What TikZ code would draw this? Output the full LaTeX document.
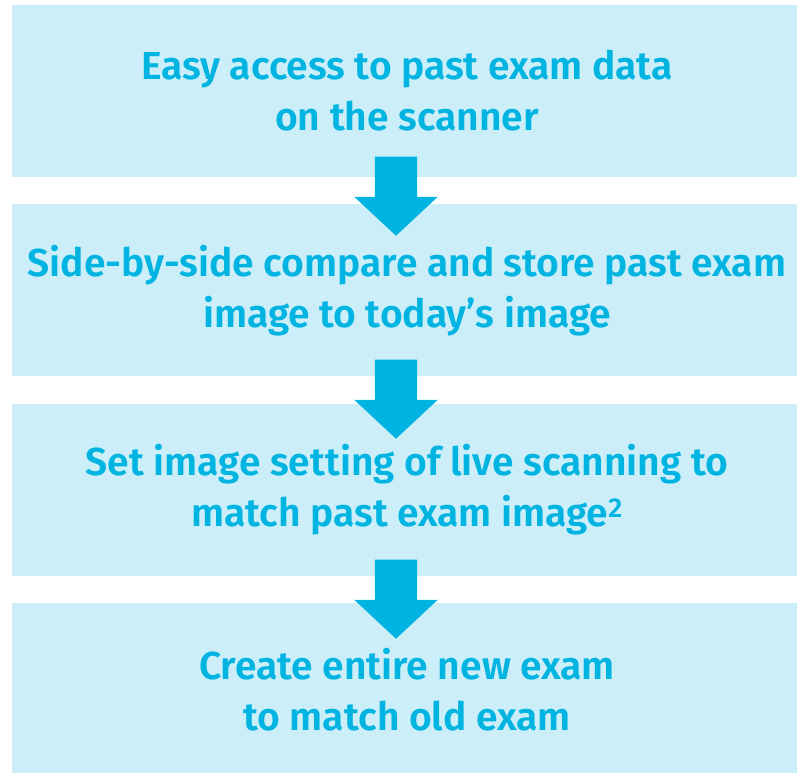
\documentclass[tikz,border=0pt]{standalone}
\usepackage{fontspec}
\setmainfont{Fira Sans}[BoldFont={Fira Sans SemiBold}]
\usepackage{tikz}
\usetikzlibrary{shapes.arrows, positioning}
\definecolor{paleCyan}{RGB}{203,238,248}
\definecolor{stepCyan}{RGB}{0,180,226}

\begin{document}
\begin{tikzpicture}[
  x=1pt, y=1pt,
  node distance=27pt,
  stage/.style={
    rectangle,
    fill=paleCyan,
    minimum width=790pt,
    minimum height=172pt,
    inner sep=0pt,
    text=stepCyan,
    align=center,
    font=\fontsize{39}{51}\selectfont\bfseries
  },
  down/.style={
    single arrow,
    fill=stepCyan,
    shape border rotate=270,
    minimum height=79pt,
    minimum width=83pt,
    single arrow head extend=20.5pt,
    single arrow tip angle=94,
    inner sep=21pt,
    anchor=tip
  },
]
\useasboundingbox (0,0) rectangle (797,772);

\node[stage] (access) at (407,681) {Easy access to past exam data\\on the scanner};

\node[stage, below=of access] (compare) {Side-by-side compare and store past exam\\image to today’s image};

\node[stage, below=of compare] (setting) {Set image setting of live scanning to\\match past exam image\textsuperscript{2}};

\node[stage, below=of setting] (newexam) {Create entire new exam\\to match old exam};

\node[down] (arrA) at (396,536) {};
\node[down] (arrB) at (396,333) {};
\node[down] (arrC) at (396,133) {};

\end{tikzpicture}
\end{document}
